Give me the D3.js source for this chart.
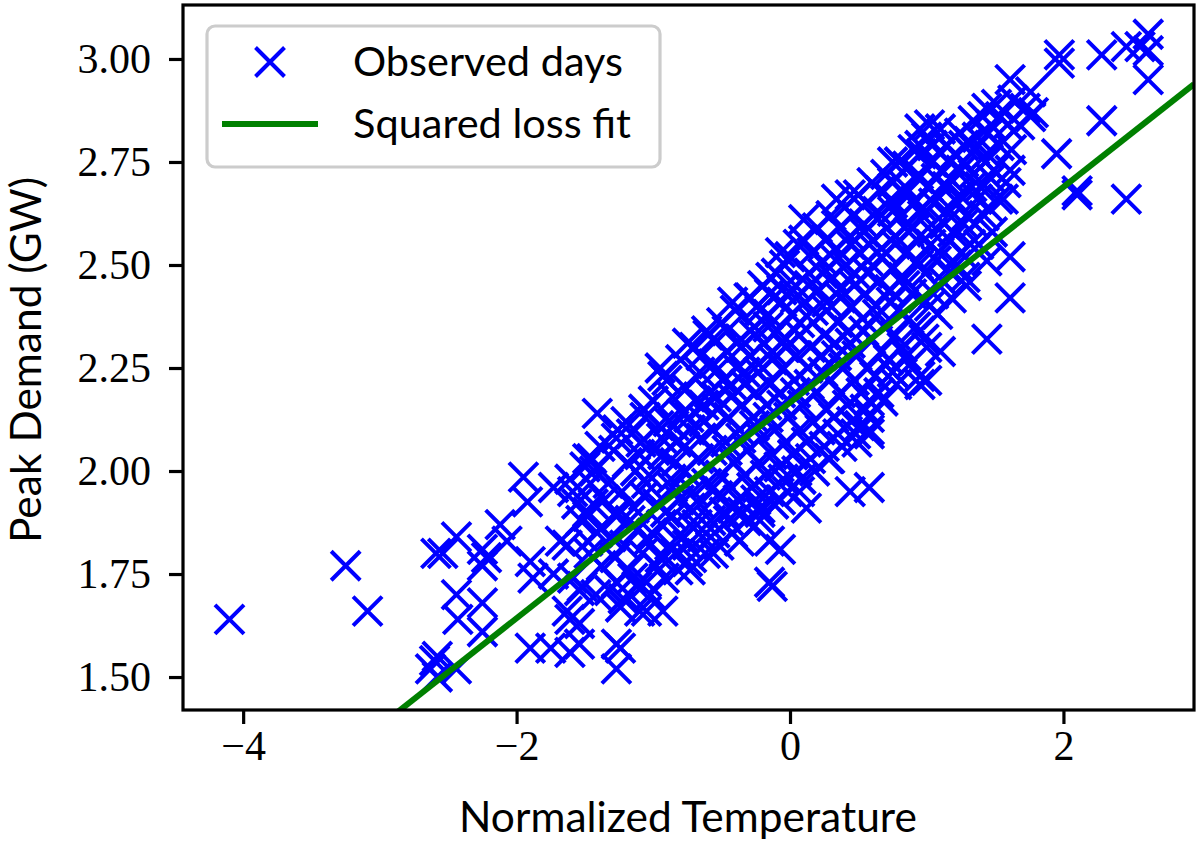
<!DOCTYPE html>
<html>
<head>
<meta charset="utf-8">
<script src="https://cdn.jsdelivr.net/npm/d3@7"></script>
<style>
  body { margin: 0; background: #fff; }
  svg { display: block; }
</style>
</head>
<body>
<div id="chart"></div>
<script>
// observed days: [normalized temperature, peak demand GW]
const observedDays = [
  [-4.10,1.64],[-3.25,1.77],[-3.09,1.66],
  [-2.59,1.80],[-2.60,1.54],[-2.63,1.52],
  [-1.95,1.985],[-1.92,1.925],[-1.73,1.96],[-1.61,1.98],[-1.59,1.95],[-1.56,1.92],[-1.45,2.03],[-1.48,1.90],
  [-2.54,1.80],[-2.44,1.84],[-2.25,1.81],[-2.22,1.79],[-2.12,1.87],[-2.07,1.83],[-2.25,1.77],
  [-1.90,1.78],[-1.88,1.74],[-1.73,1.75],[-1.68,1.83],[-1.63,1.82],[-1.59,1.74],
  [-2.44,1.70],[-2.43,1.64],[-2.25,1.68],[-2.25,1.61],
  [-2.58,1.55],[-2.58,1.50],[-2.44,1.52],
  [-1.90,1.57],[-1.75,1.57],[-1.61,1.64],[-1.61,1.56],[-1.63,1.66],
  [-1.41,2.14],[-0.93,2.23],[-1.07,2.15],[-0.75,2.31],[-0.56,2.32],[-1.48,2.03],[-1.41,2.01],[-1.27,2.08],
  [-1.44,1.92],[-1.48,1.89],[-1.39,1.86],[-1.27,1.89],[-1.48,1.83],[-1.27,1.73],[-1.05,1.73],[-1.24,1.67],
  [-0.93,1.66],[-1.27,1.58],[-1.27,1.52],[-1.05,1.66],[-0.75,1.78],[-0.56,1.80],[-0.15,1.73],[-0.15,1.83],
  [-0.22,1.91],[-0.73,1.87],[-0.86,1.96],[-0.56,1.96],[-0.42,1.91],[-1.54,1.71],[-1.54,1.63],[-1.54,1.58],
  [-0.07,1.81],[-0.13,1.72],[-1.10,1.66],[-1.24,1.57],[-0.73,1.76],[-0.37,1.83],[0.12,1.91],[0.07,1.95],[-0.22,1.88],
  [0.10,2.61],[-0.07,2.53],[-0.15,2.43],[0.58,2.55],[0.75,2.63],[0.95,2.23],[0.95,2.21],[1.00,2.30],
  [0.58,2.17],[0.58,2.10],[0.44,1.95],[0.58,1.96],[-0.07,1.93],[0.29,2.03],[0.02,2.04],[0.49,2.07],
  [1.61,2.95],[1.97,2.99],[1.76,2.92],[1.95,2.77],[2.10,2.67],[1.44,2.88],[1.10,2.83],[1.61,2.52],
  [1.61,2.42],[1.44,2.32],[1.10,2.29],[1.00,2.22],[1.29,2.45],[1.44,2.51],[1.56,2.66],[1.61,2.73],[1.54,2.86],[1.76,2.86],
  [1.97,3.01],[2.28,3.01],[2.46,3.03],[2.62,3.06],[2.62,3.02],[2.62,2.95],[2.28,2.85],[2.10,2.68],[2.46,2.66],[2.56,3.03],
  [0.95,2.83],[1.02,2.84],[0.75,2.75],[0.44,2.67],[0.95,2.79],[0.75,2.65],
  [-0.42,2.41],[-0.61,2.34],[-0.22,2.39],[-0.95,2.25],[-0.29,2.42],
  [0.75,2.24],[0.58,2.09],[0.51,2.11],
  // dense core
  [-1.52,1.72],[-1.47,1.80],[-1.53,1.88],[-1.46,1.97],[-1.50,2.01],
  [-1.42,1.70],[-1.38,1.77],[-1.41,1.85],[-1.36,1.93],[-1.43,2.00],[-1.39,2.06],
  [-1.32,1.71],[-1.28,1.79],[-1.31,1.84],[-1.27,1.90],[-1.33,1.97],[-1.29,2.05],[-1.26,2.10],
  [-1.22,1.69],[-1.18,1.76],[-1.21,1.82],[-1.17,1.88],[-1.23,1.95],[-1.19,2.02],[-1.16,2.09],[-1.20,2.12],
  [-1.12,1.72],[-1.08,1.80],[-1.11,1.86],[-1.07,1.94],[-1.13,2.00],[-1.09,2.07],[-1.06,2.13],
  [-1.02,1.70],[-0.98,1.77],[-1.01,1.85],[-0.97,1.92],[-1.03,1.99],[-0.99,2.05],[-0.96,2.11],[-1.00,2.17],
  [-0.92,1.74],[-0.88,1.82],[-0.91,1.90],[-0.87,1.98],[-0.93,2.04],[-0.89,2.12],[-0.86,2.18],[-0.90,2.22],
  [-0.82,1.76],[-0.78,1.84],[-0.81,1.93],[-0.77,2.00],[-0.83,2.07],[-0.79,2.14],[-0.76,2.20],[-0.80,2.27],
  [-0.72,1.79],[-0.68,1.87],[-0.71,1.95],[-0.67,2.03],[-0.73,2.10],[-0.69,2.17],[-0.66,2.24],[-0.70,2.30],
  [-0.62,1.80],[-0.58,1.88],[-0.61,1.97],[-0.57,2.05],[-0.63,2.12],[-0.59,2.19],[-0.56,2.26],[-0.60,2.33],
  [-0.52,1.82],[-0.48,1.90],[-0.51,1.99],[-0.47,2.07],[-0.53,2.15],[-0.49,2.22],[-0.46,2.29],[-0.50,2.36],
  [-0.42,1.85],[-0.38,1.93],[-0.41,2.02],[-0.37,2.10],[-0.43,2.18],[-0.39,2.25],[-0.36,2.32],[-0.40,2.39],
  [-0.32,1.88],[-0.28,1.96],[-0.31,2.05],[-0.27,2.13],[-0.33,2.21],[-0.29,2.28],[-0.26,2.35],[-0.30,2.42],
  [-0.22,1.90],[-0.18,1.99],[-0.21,2.08],[-0.17,2.16],[-0.23,2.24],[-0.19,2.31],[-0.16,2.38],[-0.20,2.45],
  [-0.12,1.92],[-0.08,2.01],[-0.11,2.10],[-0.07,2.19],[-0.13,2.27],[-0.09,2.34],[-0.06,2.41],[-0.10,2.48],
  [-0.02,1.95],[0.02,2.04],[-0.01,2.13],[0.03,2.22],[-0.03,2.30],[0.01,2.38],[0.04,2.45],[0.00,2.52],
  [0.08,1.98],[0.12,2.07],[0.09,2.16],[0.13,2.25],[0.07,2.33],[0.11,2.41],[0.14,2.48],[0.10,2.56],
  [0.18,2.00],[0.22,2.10],[0.19,2.19],[0.23,2.28],[0.17,2.36],[0.21,2.44],[0.24,2.51],[0.20,2.59],
  [0.28,2.03],[0.32,2.13],[0.29,2.22],[0.33,2.31],[0.27,2.39],[0.31,2.47],[0.34,2.54],[0.30,2.62],
  [0.38,2.06],[0.42,2.16],[0.39,2.25],[0.43,2.34],[0.37,2.42],[0.41,2.50],[0.44,2.57],[0.40,2.64],
  [0.48,2.09],[0.52,2.19],[0.49,2.28],[0.53,2.37],[0.47,2.45],[0.51,2.53],[0.54,2.60],[0.50,2.67],
  [0.58,2.13],[0.62,2.23],[0.59,2.32],[0.63,2.40],[0.57,2.48],[0.61,2.56],[0.64,2.63],[0.60,2.70],
  [0.68,2.17],[0.72,2.27],[0.69,2.35],[0.73,2.44],[0.67,2.52],[0.71,2.59],[0.74,2.66],[0.70,2.72],
  [0.78,2.21],[0.82,2.30],[0.79,2.39],[0.83,2.47],[0.77,2.55],[0.81,2.62],[0.84,2.69],[0.80,2.75],
  [0.88,2.26],[0.92,2.35],[0.89,2.43],[0.93,2.51],[0.87,2.58],[0.91,2.65],[0.94,2.72],[0.90,2.78],
  [0.98,2.32],[1.02,2.40],[0.99,2.48],[1.03,2.55],[0.97,2.62],[1.01,2.69],[1.04,2.75],[1.00,2.81],
  [1.08,2.38],[1.12,2.46],[1.09,2.53],[1.13,2.60],[1.07,2.67],[1.11,2.73],[1.14,2.79],
  [1.18,2.42],[1.22,2.50],[1.19,2.58],[1.23,2.65],[1.17,2.71],[1.21,2.77],[1.24,2.82],
  [1.28,2.47],[1.32,2.55],[1.29,2.62],[1.33,2.69],[1.27,2.75],[1.31,2.80],[1.34,2.85],
  [1.38,2.55],[1.42,2.62],[1.39,2.69],[1.43,2.75],[1.37,2.81],[1.41,2.86],
  [1.48,2.58],[1.52,2.66],[1.49,2.73],[1.53,2.79],[1.47,2.84],[1.51,2.89],
  [1.58,2.70],[1.62,2.78],[1.59,2.84],[1.63,2.90],
  [1.68,2.84],[1.72,2.88],[1.78,2.87],
  // dense core, second layer
  [-1.15,1.74],[-1.04,1.83],[-1.14,1.91],[-1.05,1.97],[-1.10,2.04],[-0.95,1.79],[-0.94,1.87],[-0.84,1.80],
  [-0.86,1.89],[-0.94,2.08],[-0.84,2.02],[-0.85,2.11],[-0.75,1.82],[-0.73,1.91],[-0.77,2.06],[-0.74,2.13],
  [-0.64,1.84],[-0.66,1.92],[-0.65,2.08],[-0.63,2.16],[-0.65,2.28],[-0.55,1.85],[-0.53,1.94],[-0.56,2.10],
  [-0.54,2.18],[-0.55,2.24],[-0.45,1.88],[-0.43,1.96],[-0.46,2.05],[-0.45,2.13],[-0.43,2.21],[-0.46,2.34],
  [-0.35,1.90],[-0.33,1.99],[-0.36,2.08],[-0.35,2.16],[-0.33,2.24],[-0.36,2.30],[-0.25,1.93],[-0.23,2.02],
  [-0.26,2.11],[-0.25,2.19],[-0.23,2.26],[-0.26,2.33],[-0.24,2.40],[-0.15,1.95],[-0.13,2.04],[-0.16,2.13],
  [-0.15,2.21],[-0.13,2.29],[-0.16,2.35],[-0.14,2.47],[-0.05,1.98],[-0.03,2.07],[-0.06,2.16],[-0.05,2.25],
  [-0.03,2.32],[-0.06,2.44],[-0.04,2.50],[0.05,2.00],[0.07,2.10],[0.04,2.19],[0.05,2.28],[0.07,2.36],
  [0.04,2.42],[0.06,2.55],[0.15,2.03],[0.17,2.12],[0.14,2.21],[0.15,2.30],[0.17,2.39],[0.14,2.45],
  [0.16,2.53],[0.25,2.06],[0.27,2.15],[0.24,2.24],[0.25,2.33],[0.27,2.41],[0.24,2.48],[0.26,2.56],
  [0.35,2.09],[0.37,2.19],[0.34,2.28],[0.35,2.36],[0.37,2.44],[0.34,2.51],[0.36,2.59],[0.34,2.66],
  [0.45,2.12],[0.47,2.22],[0.44,2.31],[0.45,2.40],[0.47,2.48],[0.44,2.55],[0.46,2.62],[0.55,2.15],
  [0.57,2.25],[0.54,2.34],[0.55,2.43],[0.57,2.51],[0.54,2.58],[0.56,2.65],[0.65,2.19],[0.67,2.29],
  [0.64,2.38],[0.65,2.46],[0.67,2.54],[0.64,2.61],[0.66,2.68],[0.75,2.24],[0.77,2.33],[0.74,2.41],
  [0.75,2.49],[0.77,2.57],[0.75,2.70],[0.85,2.28],[0.87,2.37],[0.84,2.45],[0.85,2.53],[0.87,2.60],
  [0.84,2.67],[0.86,2.74],[0.95,2.34],[0.97,2.42],[0.94,2.50],[0.95,2.57],[0.97,2.64],[0.94,2.71],
  [0.96,2.77],[1.05,2.43],[1.07,2.51],[1.04,2.58],[1.05,2.65],[1.07,2.71],[1.04,2.79],[1.15,2.49],
  [1.17,2.56],[1.14,2.63],[1.15,2.69],[1.17,2.75],[1.25,2.53],[1.27,2.60],[1.24,2.67],[1.25,2.73],
  [1.27,2.79],[1.35,2.60],[1.37,2.66],[1.34,2.72],[1.35,2.78],[1.45,2.64],[1.47,2.71],[1.44,2.77],[1.45,2.82]
];

// squared loss fit: [intercept, slope]
const fitCoef = [2.166, 0.2616];

const xDomain = [-4.44, 2.955];
const yDomain = [1.42, 3.131];
const xTicks = [-4, -2, 0, 2];
const yTicks = [1.50, 1.75, 2.00, 2.25, 2.50, 2.75, 3.00];

const legendLabels = ["Observed days", "Squared loss fit"];

const width = 1196, height = 844;
const plotLeft = 183, plotRight = 1194, plotTop = 5, plotBottom = 710;

const svg = d3.select("#chart").append("svg")
    .attr("width", width).attr("height", height);

const x = d3.scaleLinear().domain(xDomain).range([plotLeft, plotRight]);
const y = d3.scaleLinear().domain(yDomain).range([plotBottom, plotTop]);

svg.append("clipPath").attr("id", "plot-clip")
  .append("rect")
    .attr("x", plotLeft).attr("y", plotTop)
    .attr("width", plotRight - plotLeft).attr("height", plotBottom - plotTop);

const plot = svg.append("g").attr("clip-path", "url(#plot-clip)");

const ms = 14.5; // half size of the x marker
const xMark = `M${-ms},${-ms}L${ms},${ms}M${-ms},${ms}L${ms},${-ms}`;

plot.selectAll("path.obs")
  .data(observedDays)
  .join("path")
    .attr("class", "obs")
    .attr("d", xMark)
    .attr("transform", d => `translate(${x(d[0])},${y(d[1])})`)
    .attr("fill", "none")
    .attr("stroke", "#0000ff")
    .attr("stroke-width", 4);

const fitLine = d3.line()
    .x(d => x(d))
    .y(d => y(fitCoef[0] + fitCoef[1] * d));

plot.append("path")
    .datum(xDomain)
    .attr("d", fitLine)
    .attr("fill", "none")
    .attr("stroke", "#008000")
    .attr("stroke-width", 6);

// axes
const fmtX = d => d < 0 ? "\u2212" + Math.abs(d) : String(d);

const xAxis = svg.append("g")
    .attr("transform", `translate(0,${plotBottom})`)
    .call(d3.axisBottom(x).tickValues(xTicks).tickFormat(fmtX).tickSize(14).tickPadding(6));

const yAxis = svg.append("g")
    .attr("transform", `translate(${plotLeft},0)`)
    .call(d3.axisLeft(y).tickValues(yTicks).tickFormat(d3.format(".2f")).tickSize(14).tickPadding(18));

[xAxis, yAxis].forEach(g => {
  g.select(".domain").remove();
  g.selectAll(".tick line").attr("stroke", "#000").attr("stroke-width", 3.2);
  g.selectAll(".tick text")
    .attr("fill", "#000")
    .style("font-family", "'Liberation Serif', 'DejaVu Serif', serif")
    .style("font-size", "42px");
});

// spines
svg.append("rect")
    .attr("x", plotLeft).attr("y", plotTop)
    .attr("width", plotRight - plotLeft).attr("height", plotBottom - plotTop)
    .attr("fill", "none")
    .attr("stroke", "#000")
    .attr("stroke-width", 3.2);

const sans = "Lato, 'Open Sans', sans-serif";

svg.append("text")
    .attr("x", 688)
    .attr("y", 832)
    .attr("text-anchor", "middle")
    .style("font-family", sans)
    .style("font-size", "42.5px")
    .text("Normalized Temperature");

svg.append("text")
    .attr("transform", `translate(41,360) rotate(-90)`)
    .attr("text-anchor", "middle")
    .style("font-family", sans)
    .style("font-size", "42.5px")
    .text("Peak Demand (GW)");

// legend
const legend = svg.append("g");
legend.append("rect")
    .attr("x", 207).attr("y", 26)
    .attr("width", 453).attr("height", 141)
    .attr("rx", 8)
    .attr("fill", "#fff").attr("fill-opacity", 0.8)
    .attr("stroke", "#cccccc").attr("stroke-width", 3.2);

legend.append("path")
    .attr("d", xMark)
    .attr("transform", "translate(270,62)")
    .attr("fill", "none")
    .attr("stroke", "#0000ff")
    .attr("stroke-width", 4);

legend.append("line")
    .attr("x1", 222).attr("x2", 318)
    .attr("y1", 124).attr("y2", 124)
    .attr("stroke", "#008000")
    .attr("stroke-width", 6);

legend.selectAll("text.lab")
  .data(legendLabels)
  .join("text")
    .attr("class", "lab")
    .attr("x", 353)
    .attr("y", (d, i) => 76 + i * 62)
    .style("font-family", sans)
    .style("font-size", "41.5px")
    .text(d => d);
</script>
</body>
</html>
